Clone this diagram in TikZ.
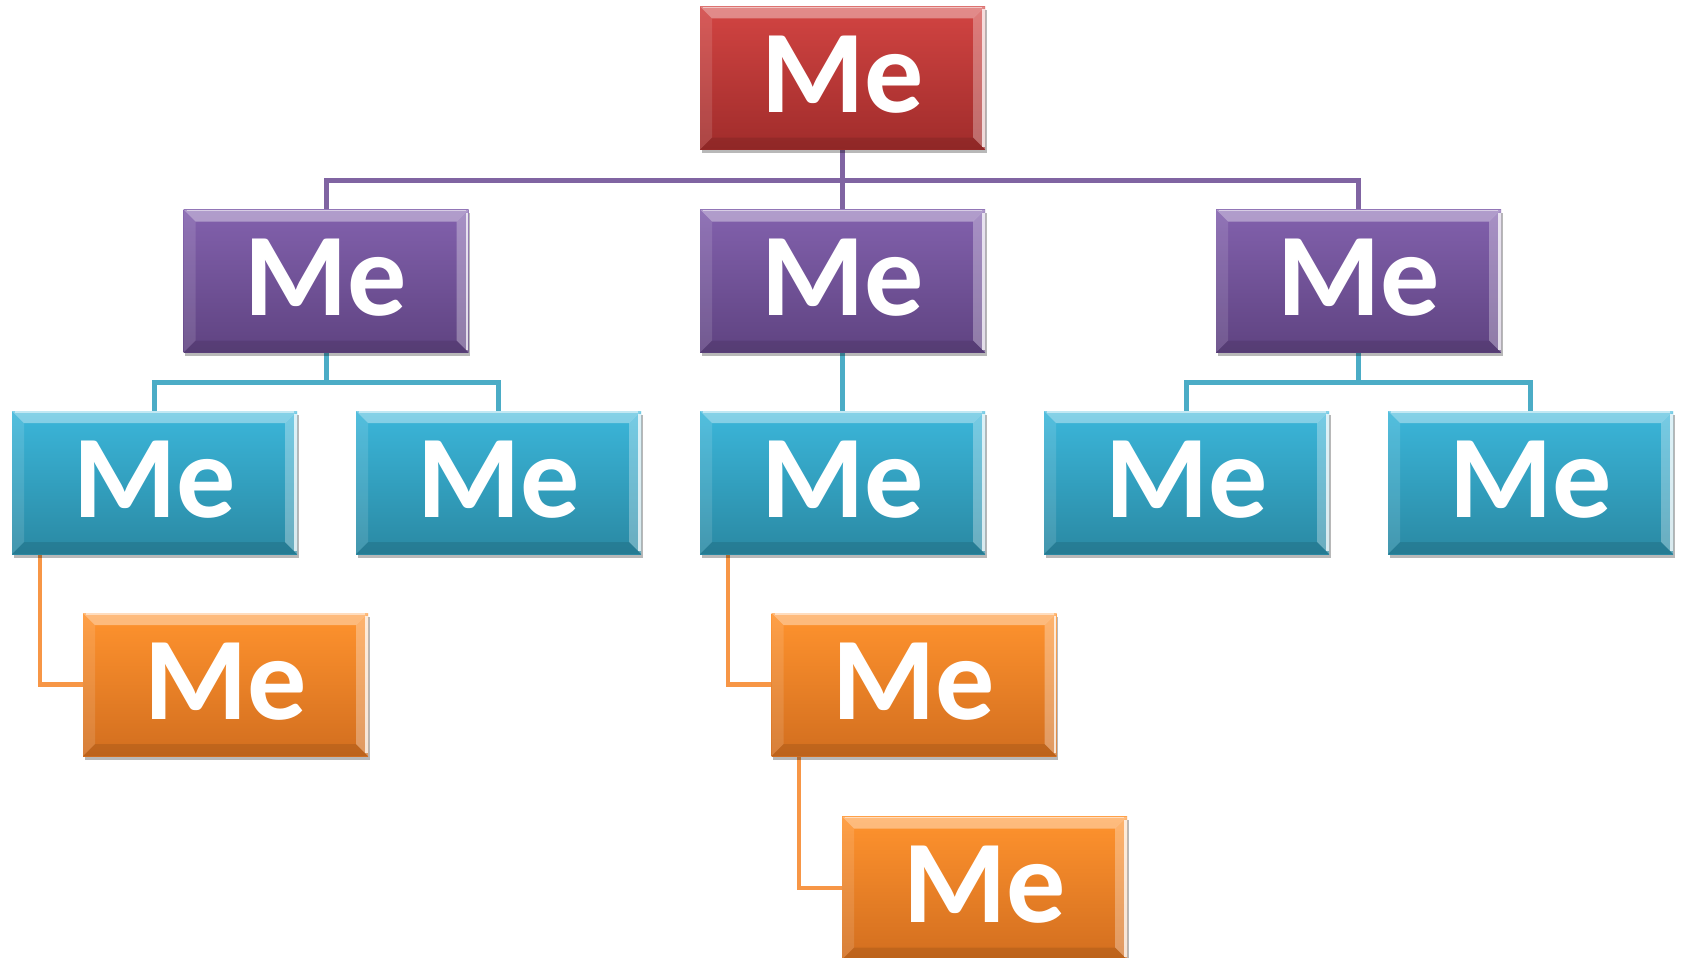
\documentclass[tikz,border=0pt]{standalone}
\usepackage{fontspec}
\newfontfamily\boxfont{Carlito}
\usetikzlibrary{shadows,calc}
\definecolor{redtop}{HTML}{D24442}
\definecolor{redbot}{HTML}{A02C2B}
\definecolor{purtop}{HTML}{8261AD}
\definecolor{purbot}{HTML}{5F4381}
\definecolor{cyatop}{HTML}{3BB6DA}
\definecolor{cyabot}{HTML}{2A89A3}
\definecolor{oratop}{HTML}{FF932E}
\definecolor{orabot}{HTML}{D26E1F}
\definecolor{purline}{HTML}{8064A2}
\definecolor{cyaline}{HTML}{4BACC6}
\definecolor{oraline}{HTML}{F79646}
\tikzset{
  boxbase/.style={minimum width=285pt, minimum height=143pt, inner sep=0pt,
    text depth=7pt, text=white, font=\boxfont\bfseries\fontsize{118}{118}\selectfont,
    drop shadow={shadow xshift=1.5pt, shadow yshift=-3.5pt, opacity=0.28, fill=black},
    path picture={
      \fill[white, opacity=0.38] (path picture bounding box.north west) -- (path picture bounding box.north east)
        -- ++(-12pt,-12pt) -- ($(path picture bounding box.north west)+(12pt,-12pt)$) -- cycle;
      \fill[white, opacity=0.12] (path picture bounding box.north west) -- ++(12pt,-12pt)
        -- ($(path picture bounding box.south west)+(12pt,12pt)$) -- (path picture bounding box.south west) -- cycle;
      \fill[white, opacity=0.30] (path picture bounding box.north east) -- ++(-12pt,-12pt)
        -- ($(path picture bounding box.south east)+(-12pt,12pt)$) -- (path picture bounding box.south east) -- cycle;
      \fill[black, opacity=0.10] (path picture bounding box.south west) -- ++(12pt,12pt)
        -- ($(path picture bounding box.south east)+(-12pt,12pt)$) -- (path picture bounding box.south east) -- cycle;
      \draw[white, opacity=0.75, line width=2.5pt] ($(path picture bounding box.north east)+(-1.5pt,-3pt)$) -- ($(path picture bounding box.south east)+(-1.5pt,3pt)$);
      \draw[white, opacity=0.5, line width=1.5pt] ($(path picture bounding box.north west)+(3pt,-1pt)$) -- ($(path picture bounding box.north east)+(-3pt,-1pt)$);
    }},
  redbox/.style={boxbase, top color=redtop, bottom color=redbot},
  purbox/.style={boxbase, top color=purtop, bottom color=purbot},
  cyabox/.style={boxbase, top color=cyatop, bottom color=cyabot},
  orabox/.style={boxbase, top color=oratop, bottom color=orabot},
  pline/.style={draw=purline, line width=5pt},
  cline/.style={draw=cyaline, line width=5pt},
  oline/.style={draw=oraline, line width=4.5pt},
}
\begin{document}
\begin{tikzpicture}[x=1pt, y=-1pt]
\useasboundingbox (0,0) rectangle (1681,958);
% connector bus points
\coordinate (b1) at (842.5,180);
\coordinate (b2) at (326,382);
\coordinate (b3) at (1358.5,382);
% connectors
\path[pline] (842.5,149) -- (842.5,210);
\path[pline] (326,210) |- (b1) -| (1358.5,210);
\path[cline] (326,352) -- (b2);
\path[cline] (154.5,412) |- (b2) -| (498.5,412);
\path[cline] (842.5,352) -- (842.5,412);
\path[cline] (1358.5,352) -- (b3);
\path[cline] (1186.5,412) |- (b3) -| (1530.5,412);
\path[oline] (40,553) |- (84,684.5);
\path[oline] (728,553) |- (772,684.5);
\path[oline] (799,755) |- (843,888);
% nodes
\node[redbox] (r) at (842.5,78) {Me};
\node[purbox] (p1) at (326,281) {Me};
\node[purbox] (p2) at (842.5,281) {Me};
\node[purbox] (p3) at (1358.5,281) {Me};
\node[cyabox] (c1) at (154.5,482.5) {Me};
\node[cyabox] (c2) at (498.5,482.5) {Me};
\node[cyabox] (c3) at (842.5,482.5) {Me};
\node[cyabox] (c4) at (1186.5,482.5) {Me};
\node[cyabox] (c5) at (1530.5,482.5) {Me};
\node[orabox] (o1) at (225.5,684.5) {Me};
\node[orabox] (o2) at (914,684.5) {Me};
\node[orabox] (o3) at (984.5,888) {Me};
\end{tikzpicture}
\end{document}
